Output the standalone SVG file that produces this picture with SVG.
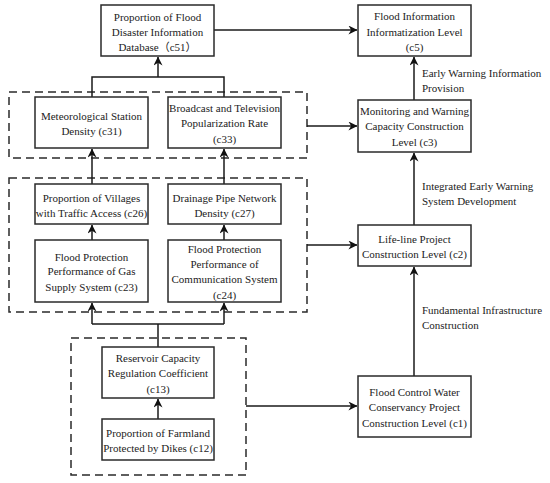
<svg xmlns="http://www.w3.org/2000/svg" width="550" height="483" viewBox="0 0 550 483">
<style>
.bg{fill:#fff}
.box{fill:#fff;stroke:#2a2a2a;stroke-width:1.5}
.dash{fill:none;stroke:#2a2a2a;stroke-width:1.5;stroke-dasharray:8 5}
.ln{fill:none;stroke:#1a1a1a;stroke-width:1.5}
.arr{marker-end:url(#ah)}
text{font-family:"Liberation Serif","Noto Sans CJK SC",serif;font-size:11px;fill:#222}
.c{text-anchor:middle}
</style>
<defs>
<marker id="ah" viewBox="0 0 10 10" refX="9.5" refY="5" markerWidth="9" markerHeight="9" markerUnits="userSpaceOnUse" orient="auto">
<path d="M0,0 L10,5 L0,10 L3,5 z" fill="#111"/>
</marker>
</defs>
<rect class="bg" x="0" y="0" width="550" height="483"/>

<g id="groups">
<rect id="group-c3" class="dash" x="9" y="92" width="298" height="66"/>
<rect id="group-c2" class="dash" x="9" y="178" width="298" height="134"/>
<rect id="group-c1" class="dash" x="71" y="338" width="175" height="137"/>
</g>

<g id="connectors">
<path class="ln arr" d="M214,30 H357"/>
<path class="ln" d="M92,97 V77 H224 V97"/>
<path class="ln arr" d="M158,77 V57"/>
<path class="ln arr" d="M307,126 H357"/>
<path class="ln arr" d="M414,100 V57"/>
<path class="ln arr" d="M92,184 V149"/>
<path class="ln arr" d="M224,184 V149"/>
<path class="ln arr" d="M92,240 V225"/>
<path class="ln arr" d="M224,240 V225"/>
<path class="ln arr" d="M307,245 H357"/>
<path class="ln arr" d="M414,225 V153"/>
<path class="ln" d="M158,347 V324"/>
<path class="ln arr" d="M92,324 H92 V303"/>
<path class="ln" d="M92,324 H224"/>
<path class="ln arr" d="M224,324 V303"/>
<path class="ln arr" d="M158,419 V399"/>
<path class="ln arr" d="M246,406 H357"/>
<path class="ln arr" d="M414,376 V267"/>
<text x="422" y="77">Early Warning Information</text>
<text x="422" y="92">Provision</text>
<text x="422" y="190">Integrated Early Warning</text>
<text x="422" y="205">System Development</text>
<text x="422" y="314">Fundamental Infrastructure</text>
<text x="422" y="329">Construction</text>
</g>

<g id="c51">
<rect class="box" x="101" y="5" width="113" height="51"/>
<text class="c" x="157.5" y="21">Proportion of Flood</text>
<text class="c" x="157.5" y="36">Disaster Information</text>
<text class="c" x="157.5" y="51">Database（c51）</text>
</g>

<g id="c5">
<rect class="box" x="358" y="5" width="113" height="51"/>
<text class="c" x="414.5" y="20">Flood Information</text>
<text class="c" x="414.5" y="36">Informatization Level</text>
<text class="c" x="414.5" y="51">(c5)</text>
</g>

<g id="c31">
<rect class="box" x="35" y="97" width="113" height="51"/>
<text class="c" x="91.5" y="120">Meteorological Station</text>
<text class="c" x="91.5" y="135">Density (c31)</text>
</g>

<g id="c33">
<rect class="box" x="168" y="97" width="113" height="51"/>
<text class="c" x="224.5" y="112">Broadcast and Television</text>
<text class="c" x="224.5" y="127">Popularization Rate</text>
<text class="c" x="224.5" y="143">(c33)</text>
</g>

<g id="c3">
<rect class="box" x="358" y="100" width="113" height="52"/>
<text class="c" x="414.5" y="115">Monitoring and Warning</text>
<text class="c" x="414.5" y="130">Capacity Construction</text>
<text class="c" x="414.5" y="146">Level (c3)</text>
</g>

<g id="c26">
<rect class="box" x="35" y="184" width="113" height="40"/>
<text class="c" x="91.5" y="202">Proportion of Villages</text>
<text class="c" x="91.5" y="217">with Traffic Access (c26)</text>
</g>

<g id="c27">
<rect class="box" x="168" y="184" width="113" height="40"/>
<text class="c" x="224.5" y="202">Drainage Pipe Network</text>
<text class="c" x="224.5" y="217">Density (c27)</text>
</g>

<g id="c23">
<rect class="box" x="35" y="240" width="113" height="62"/>
<text class="c" x="91.5" y="261">Flood Protection</text>
<text class="c" x="91.5" y="275">Performance of Gas</text>
<text class="c" x="91.5" y="291">Supply System (c23)</text>
</g>

<g id="c24">
<rect class="box" x="168" y="240" width="113" height="62"/>
<text class="c" x="224.5" y="253">Flood Protection</text>
<text class="c" x="224.5" y="268">Performance of</text>
<text class="c" x="224.5" y="283">Communication System</text>
<text class="c" x="224.5" y="299">(c24)</text>
</g>

<g id="c2">
<rect class="box" x="358" y="225" width="113" height="41"/>
<text class="c" x="414.5" y="243">Life-line Project</text>
<text class="c" x="414.5" y="258">Construction Level (c2)</text>
</g>

<g id="c13">
<rect class="box" x="102" y="347" width="112" height="51"/>
<text class="c" x="158" y="362">Reservoir Capacity</text>
<text class="c" x="158" y="377">Regulation Coefficient</text>
<text class="c" x="158" y="393">(c13)</text>
</g>

<g id="c12">
<rect class="box" x="102" y="419" width="112" height="41"/>
<text class="c" x="158" y="437">Proportion of Farmland</text>
<text class="c" x="158" y="452">Protected by Dikes (c12)</text>
</g>

<g id="c1">
<rect class="box" x="358" y="376" width="113" height="61"/>
<text class="c" x="414.5" y="396">Flood Control Water</text>
<text class="c" x="414.5" y="411">Conservancy Project</text>
<text class="c" x="414.5" y="427">Construction Level (c1)</text>
</g>
</svg>
